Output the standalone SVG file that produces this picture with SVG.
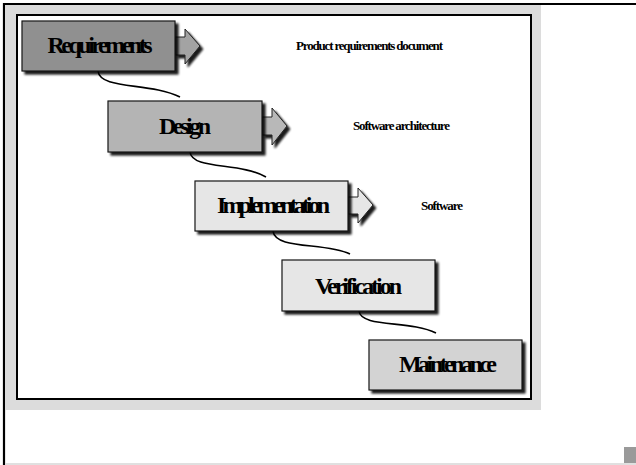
<svg xmlns="http://www.w3.org/2000/svg" width="636" height="465" viewBox="0 0 636 465">
<defs>
<filter id="sh" x="-10%" y="-20%" width="130%" height="160%">
<feGaussianBlur in="SourceAlpha" stdDeviation="1.3"/>
<feOffset dx="3" dy="3" result="b"/>
<feComponentTransfer><feFuncA type="linear" slope="0.9"/></feComponentTransfer>
<feMerge><feMergeNode/><feMergeNode in="SourceGraphic"/></feMerge>
</filter>
</defs>
<style>
.box{stroke:#1a1a1a;stroke-width:1.2;}
.arr{stroke:#222;stroke-width:1;}
.t{font-family:"Liberation Serif",serif;font-weight:bold;font-size:24px;fill:#000;text-anchor:middle;}
.s{font-family:"Liberation Serif",serif;font-weight:bold;font-size:13px;fill:#000;}
.c{fill:none;stroke:#000;stroke-width:1.6;}
</style>
<rect x="0" y="0" width="636" height="465" fill="#fff"/>
<line x1="4" y1="4" x2="636" y2="4" stroke="#000" stroke-width="2.2"/>
<line x1="4" y1="3" x2="4" y2="465" stroke="#000" stroke-width="2.2"/>
<rect x="5" y="5" width="536" height="405" fill="#dcdcdc"/>
<rect x="17" y="15" width="514" height="384" fill="#fff" stroke="#000" stroke-width="2"/>
<line x1="5" y1="464" x2="636" y2="464" stroke="#e0e0e0" stroke-width="2"/>
<rect x="624" y="447" width="12" height="16" fill="#9a9a9a"/>
<g id="connectors">
<path class="c" d="M98,71 C100,90 150,82 180,97"/>
<path class="c" d="M190,152 C192,170 240,162 266,177"/>
<path class="c" d="M273,231 C275,250 325,242 350,254"/>
<path class="c" d="M359,311 C361,328 410,320 436,333"/>
</g>
<g id="requirements">
<polygon class="arr" fill="#a3a3a3" filter="url(#sh)" points="175,37 185,37 185,29 200,46 185,64 185,55 175,55"/>
<rect class="box" x="22" y="21" width="153" height="50" fill="#909090" filter="url(#sh)"/>
<text class="t" x="100" y="53" textLength="105" lengthAdjust="spacing">Requirements</text>
</g>
<g id="design">
<polygon class="arr" fill="#b8b8b8" filter="url(#sh)" points="262,117 272,117 272,108 287,126 272,145 272,135 262,135"/>
<rect class="box" x="108" y="101" width="154" height="51" fill="#b4b4b4" filter="url(#sh)"/>
<text class="t" x="185" y="134" textLength="52" lengthAdjust="spacing">Design</text>
</g>
<g id="implementation">
<polygon class="arr" fill="#e6e6e6" filter="url(#sh)" points="348,197 358,197 358,188 373,205 358,223 358,214 348,214"/>
<rect class="box" x="195" y="181" width="153" height="50" fill="#e6e6e6" filter="url(#sh)"/>
<text class="t" x="273.5" y="213" textLength="113" lengthAdjust="spacing">Implementation</text>
</g>
<g id="verification">
<rect class="box" x="282" y="260" width="153" height="51" fill="#e6e6e6" filter="url(#sh)"/>
<text class="t" x="358.5" y="294" textLength="87" lengthAdjust="spacing">Verification</text>
</g>
<g id="maintenance">
<rect class="box" x="369" y="340" width="153" height="50" fill="#d3d3d3" filter="url(#sh)"/>
<text class="t" x="448" y="372" textLength="98" lengthAdjust="spacing">Maintenance</text>
</g>
<g id="labels">
<text class="s" x="296" y="50" textLength="147" lengthAdjust="spacing">Product requirements document</text>
<text class="s" x="353" y="130" textLength="97" lengthAdjust="spacing">Software architecture</text>
<text class="s" x="421" y="210" textLength="42" lengthAdjust="spacing">Software</text>
</g>
</svg>
